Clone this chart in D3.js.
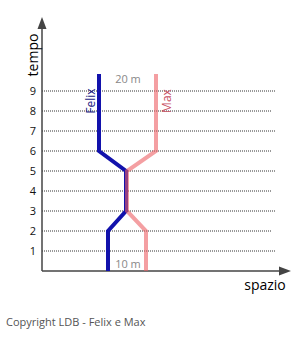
<!DOCTYPE html>
<html>
<head>
<meta charset="utf-8">
<script src="https://cdn.jsdelivr.net/npm/d3@7"></script>
<style>
	body { margin: 0; background: #fff; }
	svg { display: block; font-family: 'Open Sans', sans-serif; }
</style>
</head>
<body>
<svg id="chart" width="300" height="338"></svg>
<script>
// tempo ticks
const timeTicks = [1, 2, 3, 4, 5, 6, 7, 8, 9];

// [spazio, tempo] for each runner
const felixPath = [[6.6, 0], [6.6, 2], [8.4, 3], [8.4, 5], [5.7, 6], [5.7, 9.85]];
const maxPath = [[10.4, 0], [10.4, 2], [8.5, 3], [8.5, 5], [11.4, 6], [11.4, 9.85]];

const runners = [
	{name: 'Felix', path: felixPath, color: 'rgb(18,18,172)', opacity: 1, label: 'rgb(25,25,130)', dx: -4},
	{name: 'Max', path: maxPath, color: 'rgb(236,95,100)', opacity: 0.6, label: 'rgb(200,80,95)', dx: 15}
];

const distanceLabels = [{text: '20 m', t: 9.6}, {text: '10 m', t: 0.35}];

const svg = d3.select('#chart');
const originX = 42, originY = 271;

const x = d3.scaleLinear().domain([0, 25]).range([originX, originX + 250]);
const y = d3.scaleLinear().domain([0, 10]).range([originY, originY - 200]);

// gridlines
svg.append('g')
	.selectAll('line')
	.data(timeTicks)
	.enter().append('line')
	.attr('x1', originX)
	.attr('x2', (d, i) => i % 2 ? 272 : 275)
	.attr('y1', (d) => y(d))
	.attr('y2', (d) => y(d))
	.style('stroke', '#333')
	.style('stroke-width', 1)
	.style('stroke-dasharray', '1,1');

// tick labels
svg.append('g')
	.selectAll('text')
	.data(timeTicks)
	.enter().append('text')
	.attr('x', 36)
	.attr('y', (d) => y(d) + 4)
	.attr('text-anchor', 'end')
	.style('font-size', '11px')
	.style('fill', '#111')
	.text((d) => d);

// axes
svg.append('line')
	.attr('x1', originX).attr('y1', originY)
	.attr('x2', originX).attr('y2', 26)
	.style('stroke', '#444').style('stroke-width', 1.5);
svg.append('path')
	.attr('d', `M${originX},17 L${originX - 4.5},29 L${originX + 4.5},29 Z`)
	.style('fill', '#444');

svg.append('line')
	.attr('x1', originX).attr('y1', originY)
	.attr('x2', 282).attr('y2', originY)
	.style('stroke', '#444').style('stroke-width', 1.5);
svg.append('path')
	.attr('d', `M291,${originY} L279,${originY - 4.5} L279,${originY + 4.5} Z`)
	.style('fill', '#444');

svg.append('text')
	.attr('transform', 'translate(38, 55) rotate(-90)')
	.attr('text-anchor', 'middle')
	.style('font-size', '14px')
	.style('fill', '#000')
	.text('tempo');

svg.append('text')
	.attr('x', 265).attr('y', 290)
	.attr('text-anchor', 'middle')
	.style('font-size', '14px')
	.style('fill', '#000')
	.text('spazio');

// runner lines
const line = d3.line()
	.x((d) => x(d[0]))
	.y((d) => y(d[1]));

svg.append('g')
	.selectAll('path')
	.data(runners)
	.enter().append('path')
	.attr('d', (d) => line(d.path))
	.style('fill', 'none')
	.style('stroke', (d) => d.color)
	.style('stroke-opacity', (d) => d.opacity)
	.style('stroke-width', 4);

svg.append('g')
	.selectAll('text')
	.data(runners)
	.enter().append('text')
	.attr('transform', (d) => 'translate(' + (x(d.path[d.path.length - 1][0]) + d.dx) + ', 101) rotate(-90)')
	.attr('text-anchor', 'middle')
	.style('font-size', '12px')
	.style('fill', (d) => d.label)
	.text((d) => d.name);

svg.append('g')
	.selectAll('text')
	.data(distanceLabels)
	.enter().append('text')
	.attr('x', 128)
	.attr('y', (d) => y(d.t) + 4)
	.attr('text-anchor', 'middle')
	.style('font-size', '11px')
	.style('fill', '#888')
	.text((d) => d.text);

svg.append('text')
	.attr('x', 6).attr('y', 326)
	.style('font-size', '11px')
	.style('fill', '#555')
	.text('Copyright LDB - Felix e Max');
</script>
</body>
</html>
